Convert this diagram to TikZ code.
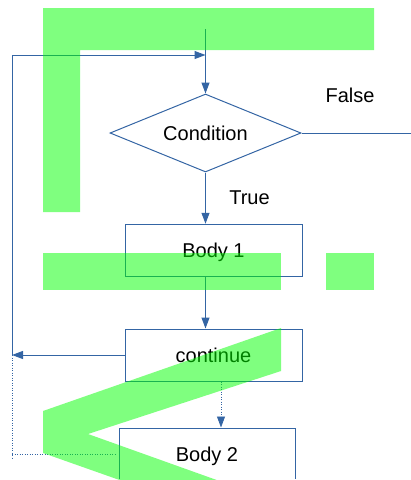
\documentclass[tikz,border=0pt]{standalone}
\usepackage{fontspec}
\setmainfont{Liberation Sans}
\usetikzlibrary{shapes.geometric,arrows.meta}
\definecolor{lblue}{HTML}{3465A4}
\begin{document}
\begin{tikzpicture}[x=1pt,y=-1pt,
  every node/.style={font=\fontsize{20}{24}\selectfont, text=black},
  flow/.style={draw=lblue, line width=1pt},
  box/.style={flow, rectangle, inner sep=0pt},
  arr/.style={flow, -{Triangle[length=11pt,width=8pt]}},
  dotline/.style={draw=lblue, line width=0.8pt, dash pattern=on 1pt off 1.5pt},
  greenband/.style={fill=green, opacity=0.5},
]
\useasboundingbox (0,0) rectangle (411,480);

% nodes
\node[flow, shape=diamond, aspect=2.45, inner sep=0pt, minimum width=191pt, minimum height=78pt] (cond) at (205.5,133) {Condition};
\node[box, minimum width=177pt, minimum height=52.5pt, text depth=0pt] (body1) at (213.5,250.5) {Body 1};
\node[box, minimum width=177pt, minimum height=52pt] (cont) at (213.5,355) {continue};
\begin{scope}
  \clip (0,0) rectangle (411,478.8);
  \node[box, minimum width=176pt, minimum height=52pt, text depth=0pt] (body2) at (207,454) {Body 2};
\end{scope}
\node (false) at (350,95) {False};
\node (true) at (249.5,198) {True};

% coordinates
\coordinate (start) at (205.5,29);
\coordinate (join) at (205.5,55);
\coordinate (ltop) at (12,55);
\coordinate (lmid) at (12,355);
\coordinate (fend) at (411,133);
\coordinate (dbot) at (12,460);
\coordinate (dcorner) at (12,454);
\coordinate (dend) at (115,454);

% connectors
\draw[arr] (start) -- (cond.north);
\draw[flow] (cond.east) -- (fend);
\draw[arr] (cond.south) -- (cond.south |- body1.north);
\draw[arr] (cond.south |- body1.south) -- (cond.south |- cont.north);
\draw[arr] (cont.west) -- (lmid);
\draw[arr] (lmid) -- (ltop) -- (join);
\draw[dotline, -{Triangle[length=11pt,width=8pt]}] ([xshift=7.5pt]cont.south) -- ([xshift=7.5pt]cont.south |- body2.north);
\draw[dotline] (lmid) -- (dbot);
\draw[dotline] (dcorner) -- (dend);

% green shapes
\fill[greenband] (43,8) -- (374,8) -- (374,50) -- (80,50) -- (80,212) -- (43,212) -- cycle;
\fill[greenband] (43,253) rectangle (281,290);
\fill[greenband] (326,253) rectangle (374,290);
\fill[greenband] (281,328) -- (281,371) -- (88,434) -- (281,503) -- (281,537) -- (43,453) -- (43,411) -- cycle;
\end{tikzpicture}
\end{document}
